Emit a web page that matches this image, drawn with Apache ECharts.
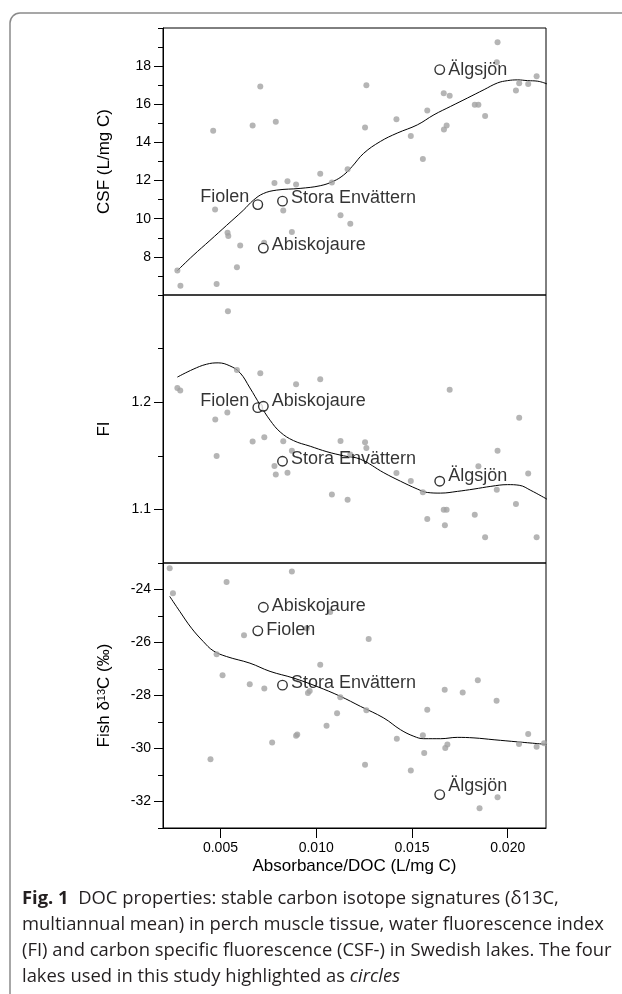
<!DOCTYPE html>
<html>
<head>
<meta charset="utf-8">
<script src="https://cdn.jsdelivr.net/npm/echarts@6/dist/echarts.min.js"></script>
<style>
html,body{margin:0;padding:0;background:#fff;}
#chart{width:622px;height:994px;}
</style>
</head>
<body>
<div id="chart"></div>
<script>
// ---- data ----
const xTicks = [0.005, 0.010, 0.015, 0.020];

const lakeNames = ['Fiolen', 'Stora Envättern', 'Abiskojaure', 'Älgsjön'];
const lakeX = [0.00695, 0.00824, 0.00724, 0.01645];
const csfLake = [10.74, 10.92, 8.46, 17.82];
const fiLake = [1.1949, 1.1449, 1.1962, 1.1263];
const d13Lake = [-25.56, -27.61, -24.67, -31.74];

const csfX = [0.00275, 0.00291, 0.00462, 0.00472, 0.0048, 0.00537, 0.00541, 0.00586, 0.00603, 0.00668, 0.00708, 0.00728, 0.00782, 0.00789, 0.00828, 0.0085, 0.00873, 0.00895, 0.01021, 0.01082, 0.01127, 0.01164, 0.01178, 0.01262, 0.01255, 0.01419, 0.01494, 0.01557, 0.0158, 0.01666, 0.01697, 0.01667, 0.01681, 0.01828, 0.01847, 0.01882, 0.01947, 0.01943, 0.02043, 0.0206, 0.02107, 0.02151];
const csfY = [7.28, 6.49, 14.61, 10.48, 6.58, 9.27, 9.09, 7.46, 8.60, 14.89, 16.93, 8.74, 11.87, 15.08, 10.43, 11.97, 9.30, 11.80, 12.36, 11.90, 10.18, 12.60, 9.74, 17.0, 14.78, 15.21, 14.34, 13.13, 15.68, 16.58, 16.45, 14.68, 14.89, 15.98, 15.98, 15.38, 19.25, 18.21, 16.72, 17.10, 17.07, 17.47];
const csfCurveX = [0.00275, 0.00357, 0.00445, 0.00532, 0.00619, 0.00672, 0.00724, 0.00794, 0.00916, 0.01021, 0.01091, 0.01143, 0.01187, 0.01248, 0.01335, 0.01423, 0.01528, 0.01615, 0.01702, 0.0179, 0.01877, 0.01947, 0.01999, 0.02052, 0.02104, 0.02157, 0.02205];
const csfCurveY = [7.28, 8.07, 8.86, 9.65, 10.44, 10.97, 11.32, 11.50, 11.59, 11.73, 11.97, 12.29, 12.73, 13.43, 14.05, 14.49, 14.92, 15.45, 15.89, 16.33, 16.77, 17.12, 17.24, 17.28, 17.24, 17.21, 17.07];

const fiX = [0.00275, 0.0029, 0.00539, 0.00473, 0.0048, 0.00536, 0.00586, 0.00668, 0.00708, 0.00729, 0.00782, 0.00789, 0.00828, 0.0085, 0.00873, 0.00895, 0.01021, 0.01082, 0.01127, 0.01164, 0.01178, 0.01255, 0.01262, 0.01419, 0.01494, 0.01557, 0.0158, 0.01666, 0.01681, 0.01672, 0.01697, 0.01828, 0.01847, 0.01882, 0.01947, 0.01943, 0.02043, 0.0206, 0.02107, 0.02151];
const fiY = [1.2133, 1.2108, 1.2848, 1.1839, 1.1497, 1.1905, 1.2301, 1.1633, 1.2269, 1.1674, 1.1405, 1.1326, 1.1636, 1.1342, 1.1547, 1.2168, 1.2215, 1.1139, 1.1639, 1.1089, 1.1513, 1.1627, 1.1573, 1.1339, 1.1266, 1.1161, 1.0911, 1.0997, 1.0997, 1.0851, 1.2117, 1.0949, 1.1402, 1.0741, 1.1547, 1.1184, 1.1051, 1.1854, 1.1335, 1.0741];
const fiCurveX = [0.00275, 0.00357, 0.00427, 0.00488, 0.00549, 0.00602, 0.00654, 0.00707, 0.00759, 0.00812, 0.00881, 0.00969, 0.01056, 0.01143, 0.01231, 0.01353, 0.0144, 0.01528, 0.0158, 0.0165, 0.01737, 0.01824, 0.01912, 0.01999, 0.0206, 0.02121, 0.02205];
const fiCurveY = [1.2234, 1.2307, 1.2354, 1.2367, 1.2339, 1.2275, 1.2133, 1.1975, 1.1832, 1.1722, 1.1642, 1.1589, 1.1538, 1.1500, 1.1468, 1.1342, 1.1263, 1.1190, 1.1158, 1.1152, 1.1168, 1.1190, 1.1215, 1.1231, 1.1225, 1.1177, 1.1095];

const d13X = [0.00235, 0.00252, 0.00532, 0.00873, 0.01073, 0.00623, 0.00951, 0.0048, 0.00511, 0.00653, 0.00729, 0.01021, 0.00957, 0.00966, 0.01126, 0.01109, 0.01054, 0.00895, 0.00901, 0.0077, 0.00448, 0.01274, 0.01262, 0.01255, 0.01421, 0.01494, 0.01557, 0.01564, 0.0158, 0.01671, 0.01674, 0.01685, 0.01765, 0.01844, 0.01942, 0.01853, 0.01947, 0.02059, 0.02107, 0.02151, 0.0219];
const d13Y = [-23.20, -24.14, -23.72, -23.32, -24.85, -25.73, -25.46, -26.44, -27.24, -27.58, -27.74, -26.84, -27.91, -27.83, -28.07, -28.67, -29.14, -29.52, -29.47, -29.77, -30.41, -25.87, -28.56, -30.61, -29.63, -30.83, -29.50, -30.17, -28.54, -27.78, -29.98, -29.85, -27.89, -27.42, -28.20, -32.25, -31.84, -29.83, -29.45, -29.93, -29.80];
const d13CurveX = [0.00235, 0.00288, 0.00349, 0.0041, 0.00462, 0.00532, 0.00654, 0.00759, 0.00881, 0.01004, 0.01126, 0.01231, 0.01353, 0.0144, 0.0151, 0.01562, 0.0165, 0.01737, 0.01824, 0.01929, 0.02052, 0.02209];
const d13CurveY = [-24.26, -24.83, -25.46, -25.96, -26.31, -26.53, -26.78, -27.09, -27.34, -27.66, -28.03, -28.41, -28.85, -29.29, -29.54, -29.63, -29.63, -29.58, -29.60, -29.67, -29.75, -29.85];

const csfTicks = [8, 10, 12, 14, 16, 18];
const fiTicks = [1.1, 1.2];
const d13Ticks = [-32, -30, -28, -26, -24];

const captionLines = [
  '{b|Fig. 1}  DOC properties: stable carbon isotope signatures (δ13C,',
  'multiannual mean) in perch muscle tissue, water fluorescence index',
  '(FI) and carbon specific fluorescence (CSF-) in Swedish lakes. The four',
  'lakes used in this study highlighted as {i|circles}'
];

// label placement per panel (position, vertical offset) for lakes in lakeNames order
const csfLabelPos = [['left', -8], ['right', -3], ['right', -3], ['right', 0]];
const fiLabelPos = [['left', -7], ['right', -2], ['right', -5], ['right', -5]];
const d13LabelPos = [['right', -1], ['right', -2], ['right', -1], ['right', -9]];

// ---- chart ----
const FONT = '"Liberation Sans", Arial, sans-serif';
const CAP_FONT = '"Open Sans", sans-serif';
const CAP_SIZE = 18.4;
const zip = (a, b) => a.map((v, i) => [v, b[i]]);

const grids = [
  { left: 163, right: 76, top: 28, height: 267 },
  { left: 163, right: 76, top: 295, height: 268 },
  { left: 163, right: 76, top: 563, height: 265 }
].map(g => Object.assign(g, { show: true, borderColor: '#000', borderWidth: 1, backgroundColor: 'transparent', containLabel: false }));

function xAx(i, showAll) {
  return {
    type: 'value', gridIndex: i, min: 0.002, max: 0.022, show: showAll,
    axisLine: { show: true, lineStyle: { color: '#000', width: 1 } },
    splitLine: { show: false },
    axisTick: { show: true, length: 10, customValues: xTicks, lineStyle: { color: '#000' } },
    axisLabel: { show: true, customValues: xTicks, margin: 13, fontFamily: FONT, fontSize: 14, color: '#000', formatter: v => v.toFixed(3) },
    name: showAll ? 'Absorbance/DOC (L/mg C)' : '',
    nameLocation: 'middle', nameGap: 30,
    nameTextStyle: { fontFamily: FONT, fontSize: 17, color: '#000' }
  };
}

function yMinor(i, min, max, step) {
  return {
    type: 'value', gridIndex: i, min: min, max: max, interval: step, position: 'left',
    axisLine: { show: true, lineStyle: { color: '#000', width: 1 } },
    axisTick: { show: true, length: 5, lineStyle: { color: '#000' } },
    axisLabel: { show: false }, splitLine: { show: false }
  };
}

function yMajor(i, min, max, ticks, name, fmt) {
  return {
    type: 'value', gridIndex: i, min: min, max: max, position: 'left',
    axisLine: { show: false },
    axisTick: { show: true, length: 9, customValues: ticks, lineStyle: { color: '#000' } },
    axisLabel: { show: true, customValues: ticks, margin: 12, fontFamily: FONT, fontSize: 14, color: '#000', formatter: fmt },
    splitLine: { show: false },
    name: name, nameLocation: 'middle', nameGap: 50, nameRotate: 90,
    nameTextStyle: {
      fontFamily: FONT, fontSize: 17, color: '#000',
      rich: { sup: { fontFamily: FONT, fontSize: 11, color: '#000', verticalAlign: 'top', lineHeight: 14 } }
    }
  };
}

function lakeData(ys, pos) {
  return lakeNames.map((n, i) => ({
    value: [lakeX[i], ys[i]],
    label: {
      show: true, formatter: n, position: pos[i][0], distance: 3,
      offset: [0, pos[i][1]],
      fontFamily: FONT, fontSize: 18, color: '#000'
    }
  }));
}

function panelSeries(i, xs, ys, cx, cy, lakeYs, pos) {
  return [
    { type: 'line', xAxisIndex: i, yAxisIndex: 2 * i, data: zip(cx, cy), smooth: 0.4, showSymbol: false,
      lineStyle: { color: '#000', width: 1 }, z: 2, silent: true },
    { type: 'scatter', xAxisIndex: i, yAxisIndex: 2 * i, data: zip(xs, ys), symbolSize: 6,
      itemStyle: { color: '#a3a3a3' }, z: 3 },
    { type: 'scatter', xAxisIndex: i, yAxisIndex: 2 * i, data: lakeData(lakeYs, pos), symbolSize: 9.5,
      itemStyle: { color: '#fff', borderColor: '#000', borderWidth: 1.4 }, z: 5 }
  ];
}

const captionGraphics = captionLines.map((t, k) => ({
  type: 'text', left: 22, top: 890 + k * 26,
  style: {
    text: t, font: CAP_SIZE + 'px ' + CAP_FONT, fill: '#231f20',
    rich: {
      b: { fontFamily: CAP_FONT, fontWeight: 'bold', fontSize: CAP_SIZE, fill: '#231f20' },
      i: { fontFamily: CAP_FONT, fontStyle: 'italic', fontSize: CAP_SIZE, fill: '#231f20' }
    }
  }, silent: true
}));

const chart = echarts.init(document.getElementById('chart'), null, { renderer: 'canvas' });
chart.setOption({
  animation: false,
  backgroundColor: '#fff',
  grid: grids,
  xAxis: [xAx(0, false), xAx(1, false), xAx(2, true)],
  yAxis: [
    yMinor(0, 6, 20, 1), yMajor(0, 6, 20, csfTicks, 'CSF (L/mg C)', v => String(v)),
    yMinor(1, 1.05, 1.30, 0.05), yMajor(1, 1.05, 1.30, fiTicks, 'FI', v => v.toFixed(1)),
    yMinor(2, -33, -23, 1), yMajor(2, -33, -23, d13Ticks, 'Fish δ{sup|13}C (‰)', v => String(v))
  ],
  series: [].concat(
    panelSeries(0, csfX, csfY, csfCurveX, csfCurveY, csfLake, csfLabelPos),
    panelSeries(1, fiX, fiY, fiCurveX, fiCurveY, fiLake, fiLabelPos),
    panelSeries(2, d13X, d13Y, d13CurveX, d13CurveY, d13Lake, d13LabelPos)
  ),
  graphic: [
    { type: 'rect', shape: { x: 10, y: 13, width: 700, height: 1100, r: 10 },
      style: { fill: 'none', stroke: '#8a8a8a', lineWidth: 1.5 }, silent: true }
  ].concat(captionGraphics)
});
</script>
</body>
</html>
